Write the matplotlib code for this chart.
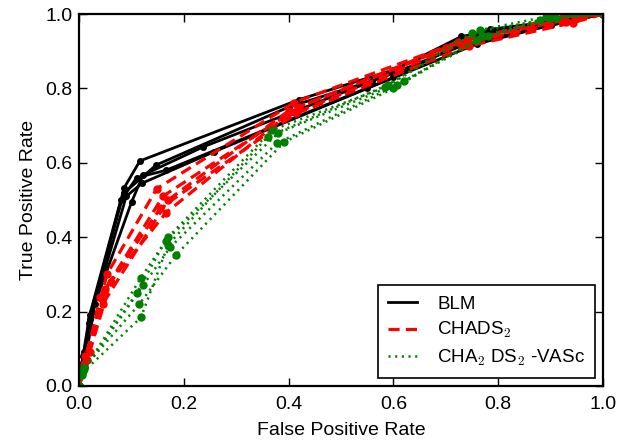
import numpy as np
import matplotlib
matplotlib.use("Agg")
import matplotlib.pyplot as plt
from matplotlib.lines import Line2D

plt.rcParams['font.family'] = ['Liberation Sans', 'DejaVu Sans']
plt.rcParams['mathtext.fontset'] = 'cm'
plt.rcParams['lines.scale_dashes'] = False

# ROC points (false positive rate, true positive rate), five folds per model
blm_fpr = [
    [0, 0.005, 0.02, 0.086, 0.116, 0.42, 0.60, 0.73, 0.87, 1],
    [0, 0.01, 0.018, 0.085, 0.147, 0.40, 0.58, 0.74, 0.90, 1],
    [0, 0.008, 0.025, 0.10, 0.122, 0.237, 0.56, 0.73, 0.88, 1],
    [0, 0.012, 0.03, 0.09, 0.12, 0.258, 0.55, 0.76, 0.90, 1],
    [0, 0.01, 0.02, 0.08, 0.11, 0.166, 0.60, 0.784, 0.93, 1],
]
blm_tpr = [
    [0, 0.06, 0.19, 0.533, 0.605, 0.77, 0.85, 0.93, 0.97, 1],
    [0, 0.05, 0.17, 0.518, 0.594, 0.75, 0.83, 0.92, 0.97, 1],
    [0, 0.08, 0.20, 0.494, 0.567, 0.643, 0.82, 0.94, 0.975, 1],
    [0, 0.07, 0.22, 0.51, 0.545, 0.63, 0.80, 0.92, 0.97, 1],
    [0, 0.09, 0.18, 0.50, 0.56, 0.58, 0.83, 0.959, 0.985, 1],
]

chads_fpr = [
    [0, 0.01, 0.053, 0.148, 0.41, 0.724, 0.924, 1],
    [0, 0.015, 0.04, 0.155, 0.415, 0.744, 0.943, 1],
    [0, 0.02, 0.06, 0.166, 0.39, 0.73, 0.93, 1],
    [0, 0.01, 0.045, 0.17, 0.40, 0.70, 0.92, 1],
    [0, 0.012, 0.05, 0.16, 0.42, 0.74, 0.95, 1],
]
chads_tpr = [
    [0, 0.06, 0.30, 0.53, 0.762, 0.925, 0.993, 1],
    [0, 0.07, 0.24, 0.478, 0.733, 0.914, 0.977, 1],
    [0, 0.09, 0.28, 0.466, 0.72, 0.92, 0.98, 1],
    [0, 0.05, 0.22, 0.50, 0.74, 0.91, 0.985, 1],
    [0, 0.08, 0.26, 0.51, 0.75, 0.93, 0.99, 1],
]

vasc_fpr = [
    [0, 0.005, 0.118, 0.17, 0.368, 0.584, 0.765, 0.892, 1],
    [0, 0.008, 0.122, 0.174, 0.377, 0.606, 0.759, 0.90, 1],
    [0, 0.01, 0.115, 0.185, 0.391, 0.60, 0.77, 0.88, 1],
    [0, 0.006, 0.118, 0.17, 0.36, 0.59, 0.75, 0.91, 1],
    [0, 0.01, 0.11, 0.165, 0.38, 0.62, 0.78, 0.90, 1],
]
vasc_tpr = [
    [0, 0.03, 0.291, 0.40, 0.688, 0.803, 0.957, 0.993, 1],
    [0, 0.04, 0.27, 0.373, 0.652, 0.809, 0.93, 0.99, 1],
    [0, 0.05, 0.22, 0.352, 0.655, 0.80, 0.94, 0.985, 1],
    [0, 0.035, 0.184, 0.38, 0.67, 0.81, 0.95, 0.99, 1],
    [0, 0.045, 0.25, 0.39, 0.68, 0.82, 0.94, 0.99, 1],
]

fs = 14

fig = plt.figure(figsize=(6.28, 4.41), dpi=100)
ax = fig.add_axes([0.126, 0.125, 0.834, 0.843])

for x, y in zip(blm_fpr, blm_tpr):
    ax.plot(x, y, '-', color='black', lw=2, marker='o', ms=4)
for x, y in zip(chads_fpr, chads_tpr):
    ax.plot(x, y, color='red', lw=2.3, dashes=(8, 4.5), marker='o', ms=5)
for x, y in zip(vasc_fpr, vasc_tpr):
    ax.plot(x, y, color='green', lw=1.8, dashes=(1.5, 3.3), marker='o', ms=5)

ax.set_xlim(0, 1)
ax.set_ylim(0, 1)
ax.set_xticks(np.arange(0, 1.01, 0.2))
ax.set_yticks(np.arange(0, 1.01, 0.2))
ax.tick_params(direction='in', top=True, right=True, length=6, width=1, labelsize=fs)
ax.tick_params(axis='x', pad=7)
ax.tick_params(axis='y', pad=5)
for s in ax.spines.values():
    s.set_linewidth(1.6)
ax.set_xlabel('False Positive Rate', fontsize=fs, labelpad=7)
ax.set_ylabel('True Positive Rate', fontsize=fs, labelpad=6)

handles = [
    Line2D([], [], color='black', lw=2),
    Line2D([], [], color='red', lw=2.3, dashes=(8, 4.5)),
    Line2D([], [], color='green', lw=1.8, dashes=(1.5, 3.3)),
]
labels = ['BLM', 'CHADS$_2$', 'CHA$_2$ DS$_2$ -VASc']
leg = ax.legend(handles, labels, loc='lower right', fontsize=13.5, fancybox=False,
                framealpha=1, edgecolor='black', borderaxespad=0.4,
                handlelength=1.5, handletextpad=1.1, labelspacing=0.4,
                borderpad=0.55)
leg.get_frame().set_linewidth(1.2)

fig.savefig('out.png', dpi=100)
